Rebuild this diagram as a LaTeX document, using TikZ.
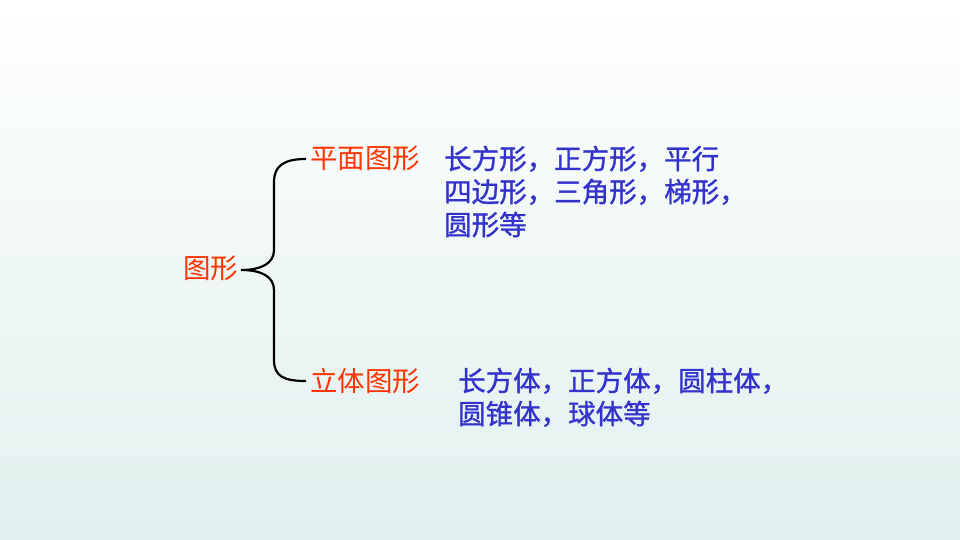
\documentclass[tikz,border=0pt]{standalone}
\usepackage{fontspec}
\newfontfamily\cjk{Noto Sans CJK SC}
\newfontfamily\cjkb[FakeBold=1.2]{Noto Sans CJK SC}
\definecolor{redtxt}{RGB}{255,51,0}
\definecolor{bluetxt}{RGB}{51,51,204}
\definecolor{bgtop}{RGB}{255,255,255}
\definecolor{bgbot}{RGB}{224,240,238}
\begin{document}
\begin{tikzpicture}[x=1pt,y=-1pt,
  lbl/.style={inner sep=0pt, anchor=base west},
  head/.style={lbl, text=redtxt, font=\cjk\fontsize{27.5}{33}\selectfont},
  body/.style={lbl, text=bluetxt, font=\cjkb\fontsize{27.5}{33}\selectfont},
  bracestyle/.style={draw=black, line width=2.2pt}]
\shade[top color=bgtop, bottom color=bgbot] (0,0) rectangle (960,540);
\useasboundingbox (0,0) rectangle (960,540);
\node[head] (root) at (183,278) {图形};
\node[head] (plane) at (310,169) {平面图形};
\node[head] (solid) at (310,391) {立体图形};
\node[body] (p1) at (444,169) {长方形，正方形，平行};
\node[body] (p2) at (444,202) {四边形，三角形，梯形，};
\node[body] (p3) at (444,235) {圆形等};
\node[body] (s1) at (458,391) {长方体，正方体，圆柱体，};
\node[body] (s2) at (458,424) {圆锥体，球体等};
\coordinate (tip) at (241,270);
\coordinate (ptop) at (306,159);
\coordinate (pbot) at (306,381);
\draw[bracestyle] (ptop) .. controls (285,159) and (274,165) .. (274,182)
  -- (274,250) .. controls (274,263) and (262,270) .. (tip)
  .. controls (262,270) and (274,277) .. (274,290)
  -- (274,360) .. controls (274,377) and (285,381) .. (pbot);
\end{tikzpicture}
\end{document}
